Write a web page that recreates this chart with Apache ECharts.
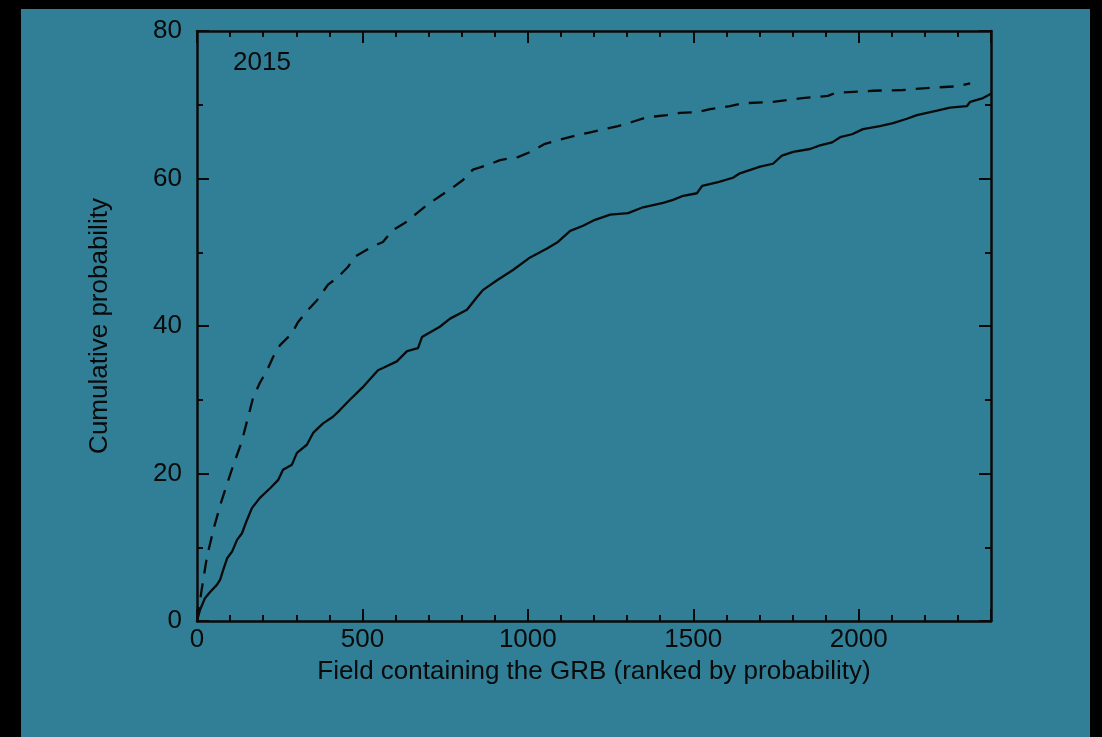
<!DOCTYPE html>
<html>
<head>
<meta charset="utf-8">
<script src="https://cdn.jsdelivr.net/npm/echarts@6/dist/echarts.min.js"></script>
<style>
  html, body { margin: 0; padding: 0; background: #000; width: 1102px; height: 737px; overflow: hidden; }
  #chart { position: absolute; left: 21px; top: 9px; width: 1069px; height: 728px; }
</style>
</head>
<body>
<div id="chart"></div>
<script>
// ---- data ----
const solidX = [0, 9, 24, 39, 60, 70, 79, 91, 106, 121, 136, 151, 166, 190, 221, 245, 260, 287, 302, 332,
  351, 381, 411, 432, 462, 499, 547, 562, 604, 635, 668, 680, 734, 765, 816, 846, 865, 907, 955, 1007,
  1058, 1091, 1128, 1167, 1203, 1249, 1303, 1348, 1409, 1439, 1466, 1511, 1527, 1575, 1620, 1641, 1702,
  1741, 1768, 1802, 1853, 1883, 1920, 1944, 1980, 2013, 2064, 2104, 2146, 2176, 2237, 2276, 2327, 2337,
  2376, 2400];
const solidY = [0, 1.5, 3.1, 3.9, 4.9, 5.6, 6.9, 8.5, 9.4, 11.0, 11.9, 13.7, 15.3, 16.7, 18.0, 19.1, 20.5,
  21.2, 22.8, 23.9, 25.5, 26.8, 27.7, 28.6, 30.0, 31.6, 34.0, 34.3, 35.2, 36.6, 37.0, 38.5, 39.9, 41.0,
  42.2, 43.9, 44.9, 46.2, 47.6, 49.3, 50.5, 51.4, 52.9, 53.6, 54.4, 55.1, 55.3, 56.1, 56.7, 57.1, 57.6,
  58.0, 59.0, 59.5, 60.1, 60.7, 61.6, 62.0, 63.1, 63.6, 64.0, 64.5, 64.9, 65.6, 66.0, 66.7, 67.1, 67.5,
  68.1, 68.6, 69.2, 69.6, 69.8, 70.4, 70.9, 71.5];
const dashedX = [0, 14, 30, 52, 75, 105, 135, 160, 169, 190, 212, 230, 251, 287, 305, 336, 363, 396, 423,
  456, 477, 523, 562, 592, 629, 665, 698, 734, 771, 804, 834, 877, 916, 970, 1007, 1052, 1091, 1143, 1182,
  1233, 1273, 1324, 1360, 1421, 1460, 1514, 1551, 1611, 1650, 1741, 1829, 1907, 1929, 2043, 2134, 2216,
  2297, 2337];
const dashedY = [0, 4.2, 8.7, 12.8, 16.4, 20.5, 24.3, 28.6, 30.2, 32.3, 34.0, 35.8, 37.4, 39.0, 40.5, 42.2,
  43.5, 45.6, 46.5, 48.0, 49.4, 50.6, 51.4, 53.0, 54.0, 55.3, 56.5, 57.6, 58.7, 59.8, 61.2, 61.8, 62.5,
  62.9, 63.6, 64.7, 65.2, 65.8, 66.2, 66.7, 67.1, 67.8, 68.3, 68.6, 68.9, 69.0, 69.4, 69.8, 70.2, 70.4,
  70.9, 71.2, 71.6, 71.9, 72.0, 72.3, 72.5, 72.9];
const xTicks = [0, 500, 1000, 1500, 2000];
const yTicks = [0, 20, 40, 60, 80];
const yearLabel = '2015';
const xName = 'Field containing the GRB (ranked by probability)';
const yName = 'Cumulative probability';

// ---- chart ----
const FONT = '"Liberation Sans", Arial, Helvetica, sans-serif';
const INK = '#0a0a0a';
const chart = echarts.init(document.getElementById('chart'), null, { renderer: 'canvas' });

function xAxisDef(pos, show) {
  return {
    type: 'value', position: pos, min: 0, max: 2400, interval: 500,
    name: show ? xName : '', nameLocation: 'middle', nameGap: 38,
    nameTextStyle: { color: INK, fontSize: 26, fontFamily: FONT },
    axisLine: { show: true, onZero: false, lineStyle: { color: INK, width: 2.5 } },
    axisTick: { show: true, inside: true, length: 12, lineStyle: { color: INK, width: 2 } },
    minorTick: { show: true, splitNumber: 5, length: 6, lineStyle: { color: INK, width: 2 } },
    axisLabel: { show: show, color: INK, fontSize: 26, fontFamily: FONT, margin: 6,
      formatter: v => (xTicks.indexOf(v) >= 0 ? String(v) : '') },
    splitLine: { show: false }
  };
}
function yAxisDef(pos, show) {
  return {
    type: 'value', position: pos, min: 0, max: 80, interval: 20,
    name: show ? yName : '', nameLocation: 'middle', nameGap: 84, nameRotate: 90,
    nameTextStyle: { color: INK, fontSize: 26, fontFamily: FONT },
    axisLine: { show: true, onZero: false, lineStyle: { color: INK, width: 2.5 } },
    axisTick: { show: true, inside: true, length: 12, lineStyle: { color: INK, width: 2 } },
    minorTick: { show: true, splitNumber: 2, length: 6, lineStyle: { color: INK, width: 2 } },
    axisLabel: { show: show, color: INK, fontSize: 26, fontFamily: FONT, margin: 15,
      formatter: v => (yTicks.indexOf(v) >= 0 ? String(v) : '') },
    splitLine: { show: false }
  };
}

const solidData = solidX.map((x, i) => [x, solidY[i]]);
const dashedData = dashedX.map((x, i) => [x, dashedY[i]]);

chart.setOption({
  animation: false,
  backgroundColor: '#317f97',
  title: {
    text: yearLabel, left: 207, top: 36, padding: 5,
    textStyle: { color: INK, fontSize: 26, fontWeight: 'normal', fontFamily: FONT }
  },
  grid: { left: 176, top: 22, right: 99, bottom: 116, containLabel: false },
  xAxis: [xAxisDef('bottom', true), xAxisDef('top', false)],
  yAxis: [yAxisDef('left', true), yAxisDef('right', false)],
  series: [
    {
      type: 'line', name: 'solid', xAxisIndex: 0, yAxisIndex: 0,
      data: solidData, showSymbol: false, symbol: 'none', smooth: false,
      lineStyle: { color: INK, width: 2.3, type: 'solid' }
    },
    {
      type: 'line', name: 'dashed', xAxisIndex: 0, yAxisIndex: 0,
      data: dashedData, showSymbol: false, symbol: 'none', smooth: false,
      lineStyle: { color: INK, width: 2.3, type: [14, 10] }
    }
  ]
});
</script>
</body>
</html>
